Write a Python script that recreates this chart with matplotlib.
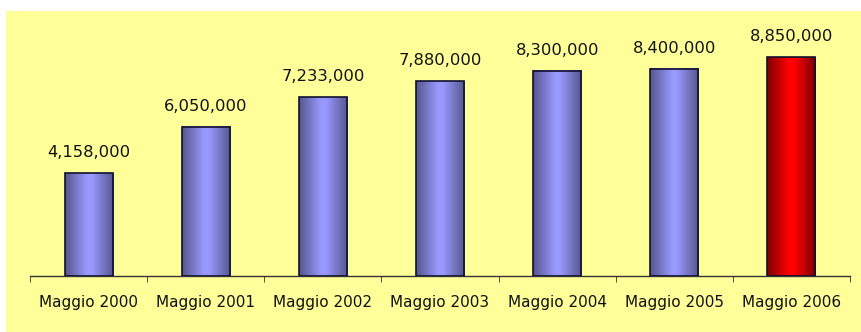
import matplotlib
matplotlib.use("Agg")
import matplotlib.pyplot as plt
import numpy as np
from matplotlib.colors import LinearSegmentedColormap
from matplotlib.patches import Rectangle

labels = ["Maggio 2000", "Maggio 2001", "Maggio 2002", "Maggio 2003",
          "Maggio 2004", "Maggio 2005", "Maggio 2006"]
values = [4158000, 6050000, 7233000, 7880000, 8300000, 8400000, 8850000]
highlight = [False, False, False, False, False, False, True]

W, H = 862, 332
fig = plt.figure(figsize=(W / 100, H / 100), dpi=100, facecolor="white")
# yellow chart area, behind the axes
bg = Rectangle((6 / W, 0), 1, (H - 11) / H, transform=fig.transFigure,
               facecolor="#FFFF99", edgecolor="none", zorder=-10)
fig.add_artist(bg)

ax = fig.add_axes([30 / W, (H - 276) / H, 820 / W, 265 / H])
ax.set_facecolor("none")

x = np.arange(len(values))
bars = ax.bar(x, values, width=0.41, facecolor="none", edgecolor="#101030",
              linewidth=1.2, zorder=3)

blue = LinearSegmentedColormap.from_list(
    "b", [(0, "#55558C"), (0.45, "#9999FF"), (0.55, "#9999FF"), (1, "#55558C")])
red = LinearSegmentedColormap.from_list(
    "r", [(0, "#800000"), (0.45, "#FF0000"), (0.55, "#FF0000"), (1, "#7A0000")])
grad = np.linspace(0, 1, 256).reshape(1, -1)

for b, v, hl in zip(bars, values, highlight):
    x0, w, h = b.get_x(), b.get_width(), b.get_height()
    ax.imshow(grad, cmap=red if hl else blue, aspect="auto",
              extent=[x0, x0 + w, 0, h], zorder=2, interpolation="bicubic")
    ax.annotate(f"{v:,}", (x0 + w / 2, h), xytext=(0, 11.5),
                textcoords="offset points", ha="center", va="baseline",
                fontsize=11.8, color="#111111")

ax.set_xlim(-0.5, len(values) - 0.5)
ax.set_ylim(0, 265 / 24.7 * 1e6)

for s in ["top", "left", "right"]:
    ax.spines[s].set_visible(False)
ax.spines["bottom"].set_color("#333333")
ax.spines["bottom"].set_linewidth(1)

ax.set_yticks([])
ax.set_xticks(x)
ax.set_xticklabels(labels, fontsize=11, color="#111111")
ax.tick_params(axis="x", which="major", length=0, pad=14)
ax.set_xticks(np.arange(-0.5, len(values)), minor=True)
ax.tick_params(axis="x", which="minor", length=4.5, color="#333333", direction="out")

fig.savefig("out.png", dpi=100, facecolor=fig.get_facecolor())
